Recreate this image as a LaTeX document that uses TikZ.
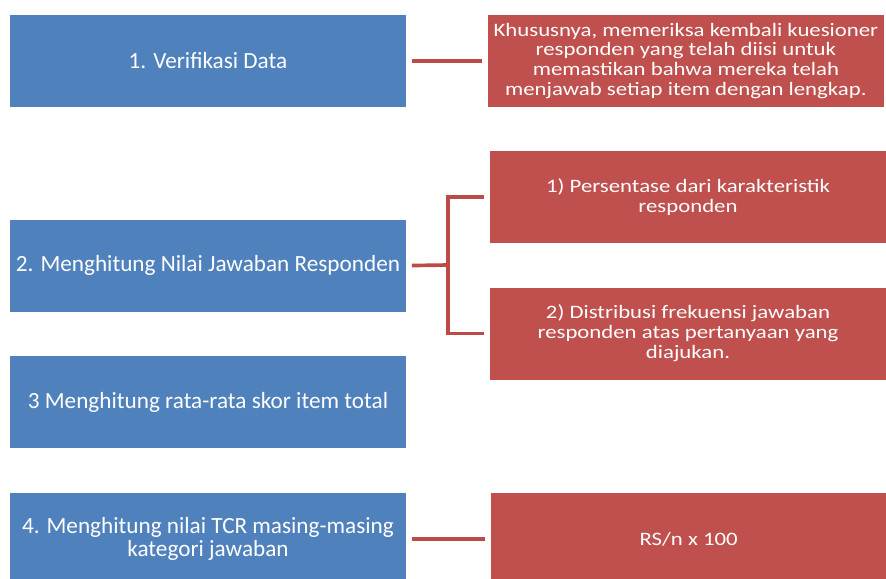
\documentclass[tikz,border=0pt]{standalone}
\usepackage{fontspec}
\setmainfont{Carlito}
\newfontfamily\widefont[FakeStretch=1.2]{Carlito}
\usepackage{tikz}
\usetikzlibrary{positioning}
\definecolor{boxblue}{HTML}{4F81BD}
\definecolor{boxred}{HTML}{C0504D}
\definecolor{linered}{HTML}{BC4A47}
\tikzset{%
bluebox/.style={rectangle, fill=boxblue, text=white, minimum width=9.9cm, minimum height=2.3cm, align=center, font=\fontsize{16.5}{16}\selectfont},
redbox/.style={rectangle, fill=boxred, text=white, minimum width=9.9cm, minimum height=2.3cm, align=center, font=\widefont\fontsize{13.5}{14.2}\selectfont},
link/.style={draw=linered, line width=2.6pt, shorten >=4pt, shorten <=4pt}
}
\begin{document}
\begin{tikzpicture}[x=0.025cm, y=-0.025cm]
		\path[use as bounding box, fill=white] (0,0) rectangle (886,578);
		% left column
		\node[bluebox] (verif) at (208,61) {1. Verifikasi Data};
		\node[bluebox] (hitung) [below=2.8cm of verif] {2. Menghitung Nilai Jawaban Responden};
		\node[bluebox] (rata) [below=1.1cm of hitung] {3 Menghitung rata-rata skor item total};
		\node[bluebox] (tcr) [below=1.1cm of rata] {4. Menghitung nilai TCR masing-masing\\kategori jawaban};
		% right column
		\node[redbox] (cek) [right=2.1cm of verif, xshift=-2pt] {Khususnya, memeriksa kembali kuesioner\\responden yang telah diisi untuk\\memastikan bahwa mereka telah\\menjawab setiap item dengan lengkap.};
		\node[redbox] (persen) at (688,197) {1) Persentase dari karakteristik\\responden};
		\node[redbox] (distribusi) [below=1.1cm of persen] {2) Distribusi frekuensi jawaban\\responden atas pertanyaan yang\\diajukan.};
		\node[redbox] (rumus) [right=2.1cm of tcr] {RS/n x 100};
		
		\coordinate (fork) at (448,265);
		\path[link] (verif) edge (cek);
		\draw[link, shorten >=0pt] (hitung.east) -- (fork);
		\draw[link] (persen.west) -| (fork) |- (distribusi.west);
		\path[link] (tcr) edge (rumus);
	\end{tikzpicture}
\end{document}
